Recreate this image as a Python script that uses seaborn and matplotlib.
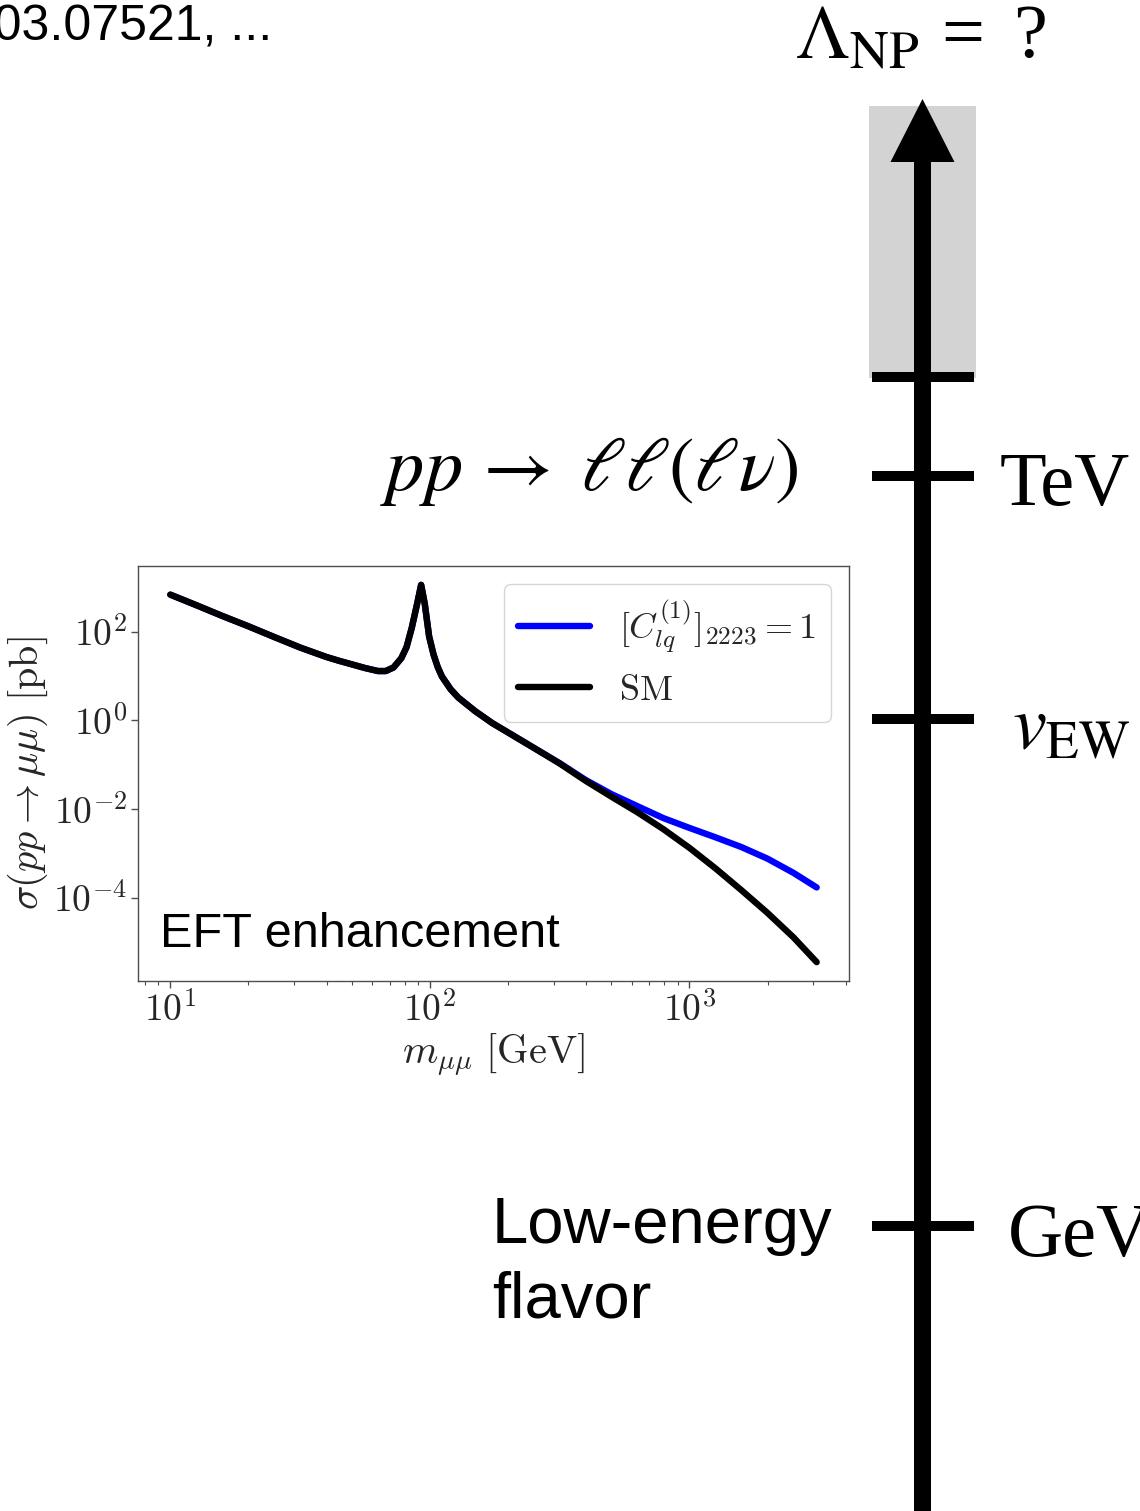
import numpy as np
import pandas as pd
import matplotlib
matplotlib.use("Agg")
import matplotlib.pyplot as plt
from matplotlib.patches import Rectangle, Polygon
import seaborn as sns

# Drell-Yan dimuon cross section vs invariant mass
mass = [10, 12.6, 15.8, 20.0, 25.1, 31.6, 39.8, 44.7, 50.1, 56.2, 63.1,
        67.6, 72.4, 77.6, 81.3, 85.1, 89.1, 92.5, 95.5, 99.3, 103.3, 107.2,
        111.2, 120.2, 128.8, 149.3, 173.8, 200.4, 268.5, 316.2, 398, 501,
        631, 794, 1000, 1259, 1585, 1995, 2512, 3090]
sigma_sm = [676, 391, 226, 131, 75.5, 43.7, 26.9, 21.9, 18.2, 15.1, 12.9,
            12.9, 15.5, 25.1, 44.7, 120, 398, 1122, 427, 77.6, 30.2, 15.8,
            9.77, 5.01, 3.24, 1.62, 0.871, 0.531, 0.191, 0.107, 0.0437,
            0.0191, 0.00851, 0.00355, 0.00135, 4.68e-4, 1.51e-4, 4.68e-5,
            1.32e-5, 3.63e-6]
sigma_eft = [676, 391, 226, 131, 75.5, 43.7, 26.9, 21.9, 18.2, 15.1, 12.9,
             12.9, 15.5, 25.1, 44.7, 120, 398, 1122, 427, 77.6, 30.2, 15.8,
             9.77, 5.01, 3.24, 1.62, 0.871, 0.531, 0.192, 0.109, 0.0457,
             0.0219, 0.0117, 0.00631, 0.00380, 0.00234, 0.00141, 7.76e-4,
             3.72e-4, 1.74e-4]

series_names = [r"$[C_{lq}^{(1)}]_{2223} = 1$", r"$\mathrm{SM}$"]
series_colors = ["#0000ff", "#000000"]

xtick_vals = [10, 100, 1000]
xtick_labels = [r"$10^{1}$", r"$10^{2}$", r"$10^{3}$"]
ytick_vals = [1e-4, 1e-2, 1e0, 1e2]
ytick_labels = [r"$10^{-4}$", r"$10^{-2}$", r"$10^{0}$", r"$10^{2}$"]

scale_labels = ["TeV", r"$v_{\mathrm{EW}}$", "GeV"]

sns.set_theme(style="ticks")
plt.rcParams["font.family"] = ["Liberation Sans", "DejaVu Sans"]
plt.rcParams["mathtext.fontset"] = "cm"
plt.rcParams["text.color"] = "black"

W, H = 1140, 1511
fig = plt.figure(figsize=(W / 100, H / 100), dpi=100)
fig.patch.set_facecolor("white")

# canvas axes in pixel units for the energy-scale ladder
bg = fig.add_axes([0, 0, 1, 1])
bg.set_xlim(0, W)
bg.set_ylim(H, 0)
bg.axis("off")

cx = 922.5
bg.add_patch(Rectangle((869, 106), 107, 272, color="#d3d3d3", lw=0, zorder=1))
bg.add_patch(Rectangle((cx - 8.5, 158), 17, H, color="black", lw=0, zorder=3))
bg.add_patch(Polygon([(cx - 32, 162), (cx + 32, 162), (cx, 99)],
                     closed=True, color="black", lw=0, zorder=3))
for yl in [376.5, 476, 719, 1226]:
    bg.add_patch(Rectangle((871.5, yl - 5), 102.5, 10, color="black", lw=0, zorder=2))

serif = ["Liberation Serif", "DejaVu Serif"]
bg.text(795, 57, r"$\Lambda_{\mathrm{NP}}$", fontsize=55, math_fontfamily="stix",
        ha="left", va="baseline")
bg.text(941, 57, "=", fontsize=55, family=serif, ha="left", va="baseline")
bg.text(1013, 57, "?", fontsize=55, family=serif, ha="left", va="baseline")
bg.text(1000, 505, scale_labels[0], fontsize=55, family=serif, ha="left", va="baseline")
bg.text(1012, 748, scale_labels[1], fontsize=55, math_fontfamily="stix",
        ha="left", va="baseline")
bg.text(1008, 1256, scale_labels[2], fontsize=55, family=serif, ha="left", va="baseline")
bg.text(380, 490, r"$pp\,\rightarrow\;\ell\ell(\ell\nu)$", fontsize=55,
        math_fontfamily="stix", ha="left", va="baseline")
bg.text(492, 1243, "Low-energy", fontsize=47, ha="left", va="baseline")
bg.text(492, 1318, "flavor", fontsize=47, ha="left", va="baseline")
bg.text(272, 40, "arXiv:2003.07521, ...", fontsize=36, ha="right", va="baseline")

# inset: cross section plot
ax = fig.add_axes([138 / W, 1 - 981 / H, 711 / W, 415 / H])
ax.set_xscale("log")
ax.set_yscale("log")
df = pd.concat([
    pd.DataFrame({"mass": mass, "sigma": sigma_eft, "series": series_names[0]}),
    pd.DataFrame({"mass": mass, "sigma": sigma_sm, "series": series_names[1]}),
])
sns.lineplot(data=df, x="mass", y="sigma", hue="series", hue_order=series_names,
             palette=dict(zip(series_names, series_colors)), estimator=None,
             linewidth=4.6, ax=ax)
for ln in ax.get_lines():
    ln.set_solid_joinstyle("round")

ax.set_xticks(xtick_vals, labels=xtick_labels)
ax.set_yticks(ytick_vals, labels=ytick_labels)
ax.yaxis.set_minor_locator(matplotlib.ticker.NullLocator())
ax.tick_params(axis="both", which="major", labelsize=27, labelcolor="0.15",
               length=5, width=1, color="0.3", pad=3)
ax.tick_params(axis="x", which="minor", length=3, width=0.8, color="0.3")
for sp in ax.spines.values():
    sp.set_color("0.3")
    sp.set_linewidth(1.0)
ax.set_xlabel(r"$m_{\mu\mu}\ [\mathrm{GeV}]$", fontsize=29, color="0.15", labelpad=2)
ax.set_ylabel(r"$\sigma(pp \to \mu\mu)\ [\mathrm{pb}]$", fontsize=29, color="0.15",
              labelpad=2)

handles, _ = ax.get_legend_handles_labels()
leg = ax.legend(handles, series_names, loc="upper right", fontsize=26,
                handlelength=2.0, frameon=True)
for t in leg.get_texts():
    t.set_color("0.15")

ax.text(0.031, 0.082, "EFT enhancement", transform=ax.transAxes, fontsize=35,
        ha="left", va="baseline")

fig.savefig("out.png", dpi=100)
